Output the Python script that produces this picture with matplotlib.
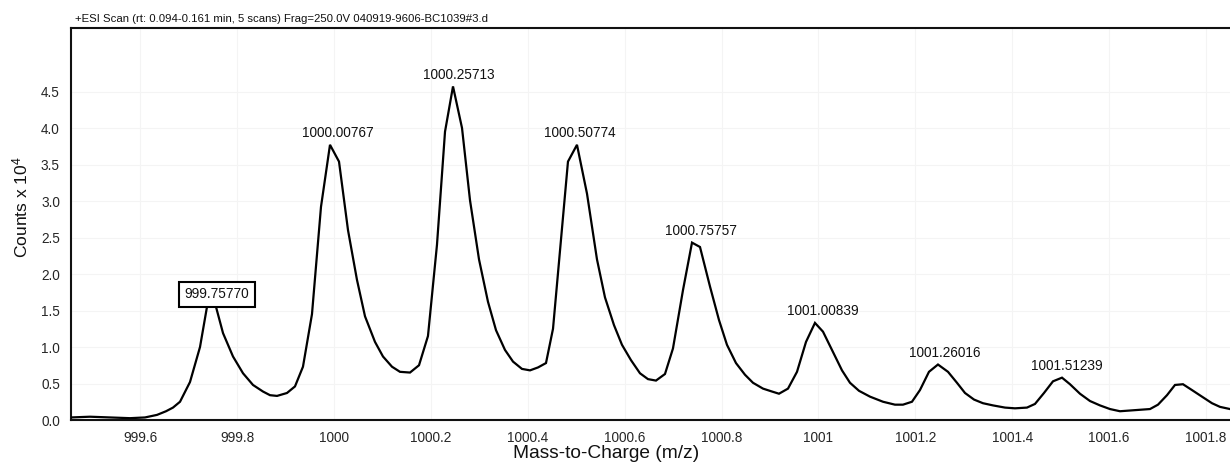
import matplotlib
matplotlib.use("Agg")
import matplotlib.pyplot as plt
import numpy as np

plt.rcParams['font.family'] = ['Liberation Sans', 'DejaVu Sans']
plt.rcParams['mathtext.fontset'] = 'custom'
plt.rcParams['mathtext.rm'] = 'Liberation Sans'

# ---- data ----
mz = [999.4565, 999.4957, 999.537, 999.5783, 999.6093, 999.6341, 999.6527, 999.6671, 999.6816,
      999.7022, 999.7229, 999.7373, 999.7559, 999.7704, 999.791, 999.8117, 999.8323, 999.8529,
      999.8674, 999.8819, 999.9025, 999.919, 999.9355, 999.9541, 999.9727, 999.9913, 1000.0099,
      1000.0285, 1000.047, 1000.0636, 1000.0842, 1000.1007, 1000.1193, 1000.1358, 1000.1565,
      1000.1751, 1000.1936, 1000.2122, 1000.2288, 1000.2453, 1000.2639, 1000.2804, 1000.299,
      1000.3175, 1000.3341, 1000.3526, 1000.3692, 1000.3877, 1000.4043, 1000.4208, 1000.4373,
      1000.4518, 1000.4827, 1000.5013, 1000.522, 1000.5426, 1000.5591, 1000.5777, 1000.5942,
      1000.6128, 1000.6314, 1000.6479, 1000.6644, 1000.683, 1000.6995, 1000.7202, 1000.7388,
      1000.7553, 1000.7759, 1000.7945, 1000.811, 1000.8296, 1000.8482, 1000.8647, 1000.8854,
      1000.904, 1000.9184, 1000.937, 1000.9556, 1000.9742, 1000.9927, 1001.0093, 1001.0278,
      1001.0485, 1001.065, 1001.0836, 1001.1063, 1001.1332, 1001.1579, 1001.1744, 1001.193,
      1001.2095, 1001.2281, 1001.2467, 1001.2674, 1001.2859, 1001.3025, 1001.3211, 1001.3396,
      1001.3603, 1001.3851, 1001.4057, 1001.4305, 1001.447, 1001.4656, 1001.4842, 1001.5028,
      1001.5193, 1001.5399, 1001.5606, 1001.5812, 1001.6019, 1001.6225, 1001.6432, 1001.6638,
      1001.6845, 1001.701, 1001.7196, 1001.7361, 1001.7526, 1001.7712, 1001.7918, 1001.8125,
      1001.829, 1001.8497, 1001.87]

counts = [0.035, 0.045, 0.035, 0.025, 0.035, 0.07, 0.12, 0.17, 0.25,
          0.52, 1.0, 1.55, 1.55, 1.19, 0.87, 0.64, 0.48, 0.39,
          0.34, 0.33, 0.37, 0.46, 0.73, 1.45, 2.92, 3.77, 3.54,
          2.6, 1.92, 1.42, 1.07, 0.87, 0.73, 0.66, 0.65,
          0.75, 1.15, 2.4, 3.95, 4.57, 4.0, 3.01, 2.2,
          1.62, 1.23, 0.96, 0.8, 0.7, 0.68, 0.72, 0.78,
          1.25, 3.54, 3.77, 3.1, 2.2, 1.68, 1.3, 1.03,
          0.82, 0.64, 0.56, 0.54, 0.63, 0.98, 1.78, 2.43,
          2.37, 1.83, 1.37, 1.03, 0.78, 0.62, 0.51, 0.43,
          0.39, 0.36, 0.43, 0.66, 1.07, 1.33, 1.21, 0.96,
          0.68, 0.51, 0.4, 0.32, 0.25, 0.21, 0.21, 0.25,
          0.41, 0.66, 0.76, 0.66, 0.51, 0.37, 0.28, 0.23,
          0.2, 0.17, 0.16, 0.17, 0.22, 0.37, 0.53, 0.58,
          0.49, 0.36, 0.26, 0.2, 0.15, 0.12, 0.13, 0.14,
          0.15, 0.21, 0.34, 0.48, 0.49, 0.41, 0.32, 0.23,
          0.18, 0.15, 0.13]

peak_mz = [999.75770, 1000.00767, 1000.25713, 1000.50774, 1000.75757,
           1001.00839, 1001.26016, 1001.51239]
peak_labels = ['999.75770', '1000.00767', '1000.25713', '1000.50774', '1000.75757',
               '1001.00839', '1001.26016', '1001.51239']

x_ticks = [999.6, 999.8, 1000.0, 1000.2, 1000.4, 1000.6, 1000.8, 1001.0, 1001.2,
           1001.4, 1001.6, 1001.8]
x_tick_labels = ['999.6', '999.8', '1000', '1000.2', '1000.4', '1000.6', '1000.8',
                 '1001', '1001.2', '1001.4', '1001.6', '1001.8']
y_ticks = [0.0, 0.5, 1.0, 1.5, 2.0, 2.5, 3.0, 3.5, 4.0, 4.5]

title_text = '+ESI Scan (rt: 0.094-0.161 min, 5 scans) Frag=250.0V 040919-9606-BC1039#3.d'

# ---- figure ----
W, H = 1230, 466
fig = plt.figure(figsize=(W / 100, H / 100), dpi=100)
ax = fig.add_axes([71 / W, 1 - 420 / H, (W - 71) / W, (420 - 28) / H])

ax.plot(mz, counts, color='black', lw=1.6, solid_joinstyle='miter', zorder=3)

ax.set_xlim(999.4565, 1001.8497)
ax.set_ylim(0, 5.37)

ax.set_xticks(x_ticks)
ax.set_xticklabels(x_tick_labels)
ax.set_yticks(y_ticks)
ax.set_yticklabels([f'{v:.1f}' for v in y_ticks])
ax.tick_params(axis='both', length=0, labelsize=9.8, labelcolor='#262626')
ax.tick_params(axis='x', pad=8)
ax.tick_params(axis='y', pad=8)

ax.grid(True, color='#f4f4f4', lw=0.8, zorder=0)

for s in ['left', 'bottom', 'top']:
    ax.spines[s].set_linewidth(1.5)
    ax.spines[s].set_color('#111111')
ax.spines['right'].set_visible(False)

ax.set_xlabel('Mass-to-Charge (m/z)', fontsize=13.8, color='#111111', va='top')
ax.xaxis.set_label_coords((606.5 - 71) / (W - 71), -(445 - 420) / 392)
ax.set_ylabel(r'Counts x $\mathregular{10^4}$', fontsize=12.6, color='#111111')
ax.yaxis.set_label_coords((30 - 71) / (W - 71), (420 - 206.7) / 392)

ax.set_title(title_text, loc='left', fontsize=8.2, color='#111111', pad=4.3,
             x=(75 - 71) / (W - 71))

mz_arr = np.array(mz)
cnt_arr = np.array(counts)
for i, (pm, lab) in enumerate(zip(peak_mz, peak_labels)):
    sel = np.abs(mz_arr - pm) < 0.03
    ytop = cnt_arr[sel].max()
    if i == 0:
        ax.annotate(lab, (pm, ytop), xytext=(0, 4.0), textcoords='offset points',
                    ha='center', va='bottom', fontsize=9.8, color='#111111',
                    bbox=dict(boxstyle='square,pad=0.4', fc='white', ec='black', lw=1.5),
                    zorder=4)
    else:
        ax.annotate(lab, (pm, ytop), xytext=(0, 5.4), textcoords='offset points',
                    ha='center', va='baseline', fontsize=9.8, color='#111111', zorder=4)

fig.savefig('out.png', dpi=100)
